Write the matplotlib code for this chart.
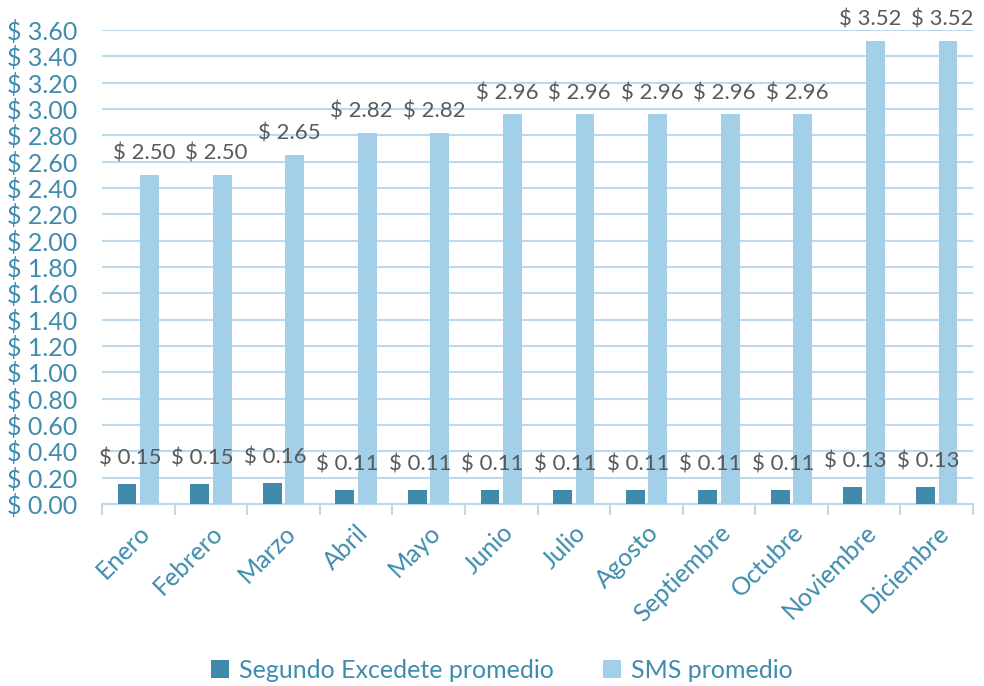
import matplotlib
matplotlib.use("Agg")
import matplotlib.pyplot as plt
import numpy as np

months = ["Enero", "Febrero", "Marzo", "Abril", "Mayo", "Junio", "Julio",
          "Agosto", "Septiembre", "Octubre", "Noviembre", "Diciembre"]
segundo = [0.15, 0.15, 0.16, 0.11, 0.11, 0.11, 0.11, 0.11, 0.11, 0.11, 0.13, 0.13]
sms = [2.50, 2.50, 2.65, 2.82, 2.82, 2.96, 2.96, 2.96, 2.96, 2.96, 3.52, 3.52]
yticks = np.arange(0, 3.61, 0.2)

dark = "#408BAB"
light = "#A3CFE8"
tickc = "#3F8CAD"
gridc = "#BCDAEB"
labc = "#595959"

plt.rcParams['font.family'] = ['Lato', 'DejaVu Sans']

fig = plt.figure(figsize=(9.84, 6.86), dpi=100)
ax = fig.add_axes([102/984, 1-504/686, (973-102)/984, (504-30)/686])

x = np.arange(len(months))
w = 0.26
gap = 0.05
b1 = ax.bar(x - (w + gap)/2, segundo, w, color=dark, label="Segundo Excedete promedio", zorder=3)
b2 = ax.bar(x + (w + gap)/2, sms, w, color=light, label="SMS promedio", zorder=3)

for xi, v in zip(x, segundo):
    ax.annotate(f"$ {v:.2f}", (xi - (w+gap)/2, v), xytext=(2, 11), textcoords="offset points",
                ha="center", va="bottom", fontsize=16, color=labc)
for xi, v in zip(x, sms):
    ax.annotate(f"$ {v:.2f}", (xi + (w+gap)/2, v), xytext=(-4, 8), textcoords="offset points",
                ha="center", va="bottom", fontsize=16, color=labc)

ax.set_xlim(-0.5, len(months) - 0.5)
ax.set_ylim(0, 3.6)
ax.set_yticks(yticks)
ax.set_yticklabels([f"$ {t:.2f}" for t in yticks], color=tickc, fontsize=18)
ax.set_xticks(np.arange(-0.5, len(months), 1.0), minor=False)
ax.set_xticklabels([])
ax.set_xticks(x, minor=True)
ax.set_xticklabels(months, minor=True, rotation=45, ha="right", va="top",
                   rotation_mode="anchor", color=tickc, fontsize=18)
ax.tick_params(axis="x", which="minor", length=0, pad=12)
ax.tick_params(axis="x", which="major", length=8, color=gridc, width=1.5)
ax.tick_params(axis="y", length=0, pad=18)
ax.grid(axis="y", color=gridc, linewidth=1.5, zorder=0)
for s in ["top", "right", "left"]:
    ax.spines[s].set_visible(False)
ax.spines["bottom"].set_color(gridc)
ax.spines["bottom"].set_linewidth(1.5)

fig.legend(handles=[b1, b2], loc="center", bbox_to_anchor=(0.51, 1-670/686), ncol=2,
           frameon=False, fontsize=18, labelcolor=tickc, handlelength=0.7, handleheight=0.7,
           columnspacing=2.0, handletextpad=0.4)

fig.savefig("out.png", dpi=100)
